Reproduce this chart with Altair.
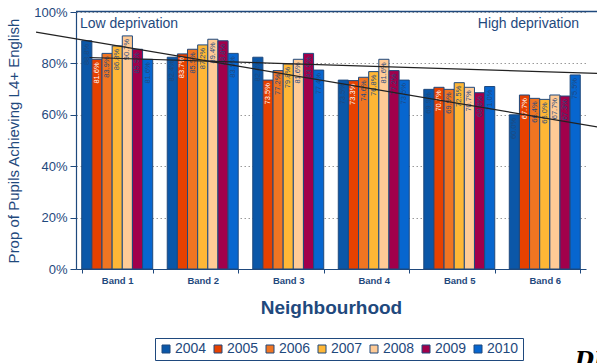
import altair as alt
import pandas as pd

# Key Stage 2: proportion of pupils achieving L4+ English, by neighbourhood band
bands = ["Band 1", "Band 2", "Band 3", "Band 4", "Band 5", "Band 6"]
years = ["2004", "2005", "2006", "2007", "2008", "2009", "2010"]

y2004 = [0.888, 0.824, 0.824, 0.735, 0.699, 0.600]
y2005 = [0.816, 0.837, 0.735, 0.733, 0.707, 0.677]
y2006 = [0.839, 0.855, 0.772, 0.746, 0.699, 0.664]
y2007 = [0.868, 0.872, 0.798, 0.768, 0.725, 0.660]
y2008 = [0.907, 0.894, 0.816, 0.816, 0.707, 0.677]
y2009 = [0.855, 0.888, 0.839, 0.772, 0.686, 0.673]
y2010 = [0.816, 0.839, 0.774, 0.735, 0.710, 0.755]

year_colours = ["#0B57A8", "#E64100", "#F07522", "#FFB736", "#FFCB96", "#A1004B", "#0766CF"]

# Trend lines, x in band units (0 = left edge of Band 1, 6 = right edge of Band 6)
steep_x = [-0.47, 6.13]
steep_y = [0.922, 0.553]
shallow_x = [0.16, 6.13]
shallow_y = [0.823, 0.761]

NAVY = "#1F497D"
FONT = "Liberation Sans"

series = [y2004, y2005, y2006, y2007, y2008, y2009, y2010]
rows = []
for yr, vals in zip(years, series):
    for band, v in zip(bands, vals):
        rows.append({"band": band, "year": yr, "value": v})
df = pd.DataFrame(rows)

trend_df = pd.DataFrame(
    [{"line": "a", "u": u, "v": v} for u, v in zip(steep_x, steep_y)]
    + [{"line": "b", "u": u, "v": v} for u, v in zip(shallow_x, shallow_y)]
)

band_scale = alt.Scale(paddingInner=0.17, paddingOuter=0.067)

x_enc = alt.X(
    "band:N",
    sort=bands,
    scale=band_scale,
    axis=alt.Axis(
        title="Neighbourhood",
        tickBand="extent",
        labelAngle=0,
        labelFont=FONT,
        labelFontSize=9.5,
        labelFontWeight="bold",
        labelColor=NAVY,
        labelPadding=2,
        tickSize=4,
        tickColor=NAVY,
        domainColor=NAVY,
        domainWidth=1.2,
        titleFont=FONT,
        titleFontSize=19,
        titleFontWeight="bold",
        titleColor=NAVY,
        titlePadding=14,
    ),
)
xoff_enc = alt.XOffset("year:N", sort=years)
y_enc = alt.Y(
    "value:Q",
    scale=alt.Scale(domain=[0, 1], nice=False),
    axis=alt.Axis(
        title="Prop of Pupils Achieving L4+ English",
        format=".0%",
        values=[i / 10 for i in range(11)],
        labelFont=FONT,
        labelFontSize=13,
        labelColor=NAVY,
        labelPadding=3,
        tickSize=6,
        tickColor=NAVY,
        domainColor=NAVY,
        domainWidth=1.2,
        grid=True,
        gridColor="#9A9A9A",
        gridDash=[1.5, 2.5],
        titleFont=FONT,
        titleFontSize=15,
        titleFontWeight="normal",
        titleColor=NAVY,
        titlePadding=12,
    ),
)

bars = alt.Chart(df).mark_bar(stroke=NAVY, strokeWidth=1).encode(
    x=x_enc,
    xOffset=xoff_enc,
    y=y_enc,
    color=alt.Color(
        "year:N",
        scale=alt.Scale(domain=years, range=year_colours),
        legend=alt.Legend(
            title=None,
            orient="none",
            legendX=79,
            legendY=326,
            direction="horizontal",
            symbolType="square",
            symbolSize=64,
            symbolStrokeColor=NAVY,
            symbolStrokeWidth=1,
            labelFont=FONT,
            labelFontSize=14,
            labelColor=NAVY,
            labelOffset=2,
            columnPadding=4,
            padding=4,
            strokeColor=NAVY,
            fillColor="white",
        ),
    ),
)

# value labels, written upwards just under the top of each bar
labels = (
    alt.Chart(df)
    .transform_calculate(label="format(datum.value, '.1%')")
    .mark_text(angle=270, align="right", baseline="middle", dx=-3, font=FONT, fontSize=7.5)
    .encode(
        x=alt.X("band:N", sort=bands, scale=band_scale, axis=None),
        xOffset=xoff_enc,
        y=alt.Y("value:Q"),
        text="label:N",
        color=alt.condition(alt.datum.year == "2005", alt.value("white"), alt.value(NAVY)),
    )
)

trend = (
    alt.Chart(trend_df)
    .mark_line(color="#222222", strokeWidth=1.2, clip=False)
    .encode(
        x=alt.X("u:Q", scale=alt.Scale(domain=[0, 6], nice=False, zero=False), axis=None),
        y=alt.Y("v:Q"),
        detail="line:N",
    )
)

one = alt.Data(values=[{}])
top_border = alt.Chart(one).mark_rule(color=NAVY, strokeWidth=1.5).encode(
    x=alt.value(0), x2=alt.value(521), y=alt.value(-0.5)
)
low_txt = alt.Chart(one).mark_text(
    text="Low deprivation", align="left", baseline="middle", font=FONT, fontSize=14, color=NAVY
).encode(x=alt.value(4), y=alt.value(11.5))
high_txt = alt.Chart(one).mark_text(
    text="High deprivation", align="right", baseline="middle", font=FONT, fontSize=14, color=NAVY
).encode(x=alt.value(503), y=alt.value(11.5))
corner_txt = alt.Chart(one).mark_text(
    text="DI", align="left", baseline="top", font="DejaVu Serif", fontSize=22,
    fontStyle="italic", fontWeight="bold", color="black"
).encode(x=alt.value(499), y=alt.value(338))

chart = (
    alt.layer(bars, labels, trend, top_border, low_txt, high_txt, corner_txt)
    .resolve_scale(x="independent")
    .properties(
        width=510,
        height=257,
        autosize=alt.AutoSizeParams(type="none"),
        padding={"left": 76, "top": 12, "right": 11, "bottom": 94},
        background="white",
    )
    .configure_view(stroke=None)
)

chart.save("out.html", embed_options={"renderer": "svg", "actions": False})
